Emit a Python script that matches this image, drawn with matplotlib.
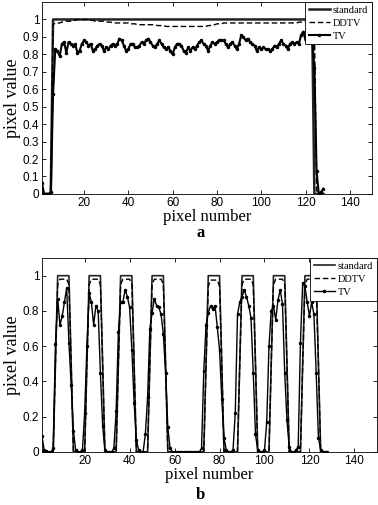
import numpy as np
import matplotlib
matplotlib.use("Agg")
import matplotlib.pyplot as plt

# ---- panel a: one flat bar, 128 pixels ----
std_a = ([0, 0, 0, 0, 0] + [1] * 118 + [0, 0, 0, 0, 0])
ddtv_a = ([0, 0, 0, 0, 0,
           0.97, 0.98, 0.98, 0.98, 0.985, 0.985, 0.99, 0.99, 0.99, 0.995,
           0.995, 1.0, 1.0, 1.0, 1.0, 1.0, 1.0, 0.995, 0.995, 0.99,
           0.99, 0.99, 0.99, 0.99, 0.985, 0.985, 0.985, 0.98, 0.98, 0.98,
           0.98, 0.98, 0.98, 0.98, 0.98, 0.975, 0.975, 0.975, 0.97, 0.97,
           0.97, 0.97, 0.97, 0.97, 0.97, 0.97, 0.97, 0.965, 0.965, 0.965,
           0.965, 0.96, 0.96, 0.96, 0.96, 0.96, 0.96, 0.96, 0.96, 0.96,
           0.96, 0.96, 0.96, 0.96, 0.96, 0.96, 0.96, 0.96, 0.96, 0.96,
           0.965, 0.965, 0.97, 0.97, 0.975, 0.975, 0.975, 0.98, 0.98, 0.98]
          + [0.98] * 31 +
          [0.985, 0.985, 0.985, 0.99, 0.99, 0.99, 0.99, 0.99,
           0.02, 0, 0, 0, 0])
tv_a = [0.06, 0.0, 0.0, 0.0, 0.01, 0.57, 0.83, 0.82, 0.79, 0.86,
        0.87, 0.81, 0.87, 0.86, 0.85, 0.86, 0.81, 0.82, 0.86, 0.88,
        0.87, 0.85, 0.86, 0.82, 0.83, 0.85, 0.86, 0.85, 0.82, 0.84,
        0.83, 0.85, 0.86, 0.85, 0.86, 0.89, 0.88, 0.85, 0.82, 0.83,
        0.86, 0.86, 0.84, 0.84, 0.85, 0.87, 0.86, 0.88, 0.89, 0.87,
        0.85, 0.84, 0.86, 0.88, 0.86, 0.84, 0.83, 0.84, 0.82, 0.80,
        0.84, 0.86, 0.86, 0.85, 0.82, 0.81, 0.84, 0.82, 0.84, 0.83,
        0.85, 0.87, 0.88, 0.86, 0.85, 0.82, 0.85, 0.87, 0.86, 0.87,
        0.88, 0.88, 0.88, 0.86, 0.84, 0.86, 0.87, 0.85, 0.83, 0.86,
        0.91, 0.90, 0.88, 0.89, 0.87, 0.86, 0.85, 0.82, 0.84, 0.83,
        0.84, 0.83, 0.83, 0.82, 0.83, 0.85, 0.84, 0.86, 0.88, 0.86,
        0.85, 0.83, 0.86, 0.87, 0.86, 0.87, 0.86, 0.91, 0.93, 0.88,
        0.93, 0.87, 0.89, 0.72, 0.13, 0.0, 0.01, 0.03]

# ---- panel b: eight bars ----
std_b = [0, 0, 0, 0, 0,
         0, 0.5, 1, 1, 1, 1, 1, 1, 0.5, 0,
         0, 0, 0, 0,
         0, 0.5, 1, 1, 1, 1, 1, 1, 0.5, 0,
         0, 0, 0, 0,
         0, 0.5, 1, 1, 1, 1, 1, 1, 0.5, 0,
         0, 0, 0, 0,
         0, 0.5, 1, 1, 1, 1, 1, 1, 0.5, 0,
         0, 0, 0, 0, 0, 0, 0, 0, 0, 0, 0, 0, 0, 0, 0,
         0, 0.5, 1, 1, 1, 1, 1, 1, 0.5, 0,
         0, 0, 0, 0, 0,
         0, 0.5, 1, 1, 1, 1, 1, 1, 0.5, 0,
         0, 0, 0, 0,
         0, 0.5, 1, 1, 1, 1, 1, 1, 0.5, 0,
         0, 0, 0, 0,
         0, 0.5, 1, 1, 1, 1, 1, 1, 0.5, 0,
         0, 0, 0]
ddtv_b = [0, 0, 0, 0, 0,
          0, 0.5, 0.95, 0.98, 0.98, 0.98, 0.98, 0.95, 0.5, 0,
          0, 0, 0, 0,
          0, 0.5, 0.95, 0.98, 0.98, 0.98, 0.98, 0.95, 0.5, 0,
          0, 0, 0, 0,
          0, 0.5, 0.95, 0.98, 0.98, 0.98, 0.98, 0.95, 0.5, 0,
          0, 0, 0, 0,
          0, 0.5, 0.95, 0.98, 0.98, 0.98, 0.98, 0.95, 0.5, 0,
          0, 0, 0, 0, 0, 0, 0, 0, 0, 0, 0, 0, 0, 0, 0,
          0, 0.5, 0.94, 0.975, 0.975, 0.975, 0.975, 0.94, 0.5, 0,
          0, 0, 0, 0, 0,
          0, 0.5, 0.95, 0.98, 0.98, 0.98, 0.98, 0.95, 0.5, 0,
          0, 0, 0, 0,
          0, 0.5, 0.95, 0.98, 0.98, 0.98, 0.98, 0.95, 0.5, 0,
          0, 0, 0, 0,
          0, 0.5, 0.95, 0.98, 0.98, 0.98, 0.98, 0.95, 0.5, 0,
          0, 0, 0]
tv_b = [0.09, 0.01, 0.005, 0.0, 0.0, 0.02, 0.61, 0.87, 0.72, 0.77,
        0.85, 0.93, 0.62, 0.38, 0.12, 0.01, 0.0, 0.0, 0.01, 0.22,
        0.60, 0.90, 0.85, 0.72, 0.83, 0.80, 0.45, 0.15, 0.01, 0.0,
        0.0, 0.0, 0.02, 0.23, 0.68, 0.85, 0.85, 0.92, 0.88, 0.82,
        0.58, 0.28, 0.07, 0.01, 0.0, 0.0, 0.10, 0.31, 0.70, 0.79,
        0.87, 0.83, 0.82, 0.78, 0.67, 0.45, 0.14, 0.02, 0.0, 0.0,
        0.0, 0.0, 0.0, 0.0, 0.0, 0.0, 0.0, 0.0, 0.0, 0.0,
        0.0, 0.02, 0.46, 0.72, 0.79, 0.83, 0.81, 0.83, 0.71, 0.58,
        0.30, 0.08, 0.01, 0.0, 0.0, 0.01, 0.22, 0.78, 0.85, 0.88,
        0.92, 0.88, 0.83, 0.76, 0.45, 0.10, 0.01, 0.0, 0.0, 0.01,
        0.17, 0.60, 0.80, 0.83, 0.75, 0.86, 0.92, 0.84, 0.45, 0.18,
        0.03, 0.0, 0.0, 0.01, 0.03, 0.62, 0.96, 0.94, 0.85, 0.77,
        0.85, 0.78, 0.45, 0.08, 0.01, 0.0, 0.0, 0.0]

SERIF = ["Liberation Serif", "DejaVu Serif"]
SANS = ["Liberation Sans", "DejaVu Sans"]
plt.rcParams["font.family"] = SANS

fig = plt.figure(figsize=(3.78, 5.05), dpi=100)
ax_a = fig.add_axes([0.111, 0.616, 0.873, 0.38])
ax_b = fig.add_axes([0.111, 0.105, 0.886, 0.384])


def draw(ax, std, ddtv, tv, yticks, yticklabels, std_lw, tv_lw):
    ax.plot(np.arange(1, len(std) + 1), std, color="#222222", lw=std_lw,
            label="standard")
    ax.plot(np.arange(1, len(ddtv) + 1), ddtv, color="black", lw=1.0,
            ls=(0, (4, 2)), label="DDTV")
    ax.plot(np.arange(1, len(tv) + 1), tv, color="black", lw=tv_lw,
            marker=".", ms=3, label="TV")
    ax.set_xlim(1, 150)
    ax.set_ylim(0, 1.1)
    ax.set_xticks([20, 40, 60, 80, 100, 120, 140])
    ax.set_yticks(yticks)
    ax.set_yticklabels(yticklabels)
    ax.tick_params(direction="in", top=True, right=True, labelsize=8.5,
                   length=3, width=0.6, pad=2)
    for sp in ax.spines.values():
        sp.set_linewidth(0.6)
    ax.set_xlabel("pixel number", family=SERIF, fontsize=12, labelpad=0)
    ax.set_ylabel("pixel value", family=SERIF, fontsize=13, labelpad=1)
    leg = ax.legend(loc="upper right", borderaxespad=0, fancybox=False,
                    framealpha=1, edgecolor="black", handlelength=2.0,
                    handletextpad=0.3, borderpad=0.35, labelspacing=0.35,
                    prop={"family": SERIF, "size": 7.5})
    leg.get_frame().set_linewidth(0.6)


draw(ax_a, std_a, ddtv_a, tv_a, np.arange(0, 1.01, 0.1),
     ["0", "0.1", "0.2", "0.3", "0.4", "0.5", "0.6", "0.7", "0.8", "0.9", "1"],
     1.8, 1.5)
draw(ax_b, std_b, ddtv_b, tv_b, np.arange(0, 1.01, 0.2),
     ["0", "0.2", "0.4", "0.6", "0.8", "1"], 1.2, 1.0)

fig.text(0.53, 1 - 233 / 505, "a", family=SERIF, fontsize=12,
         fontweight="bold", ha="center", va="center")
fig.text(0.53, 1 - 495 / 505, "b", family=SERIF, fontsize=12,
         fontweight="bold", ha="center", va="center")

fig.savefig("out.png", dpi=100)
